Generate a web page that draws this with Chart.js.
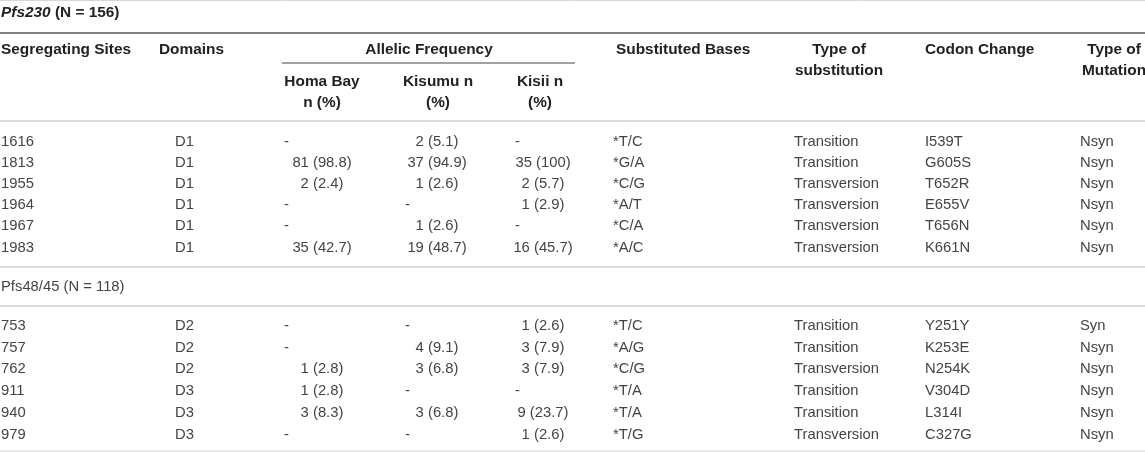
<!DOCTYPE html>
<html>
<head>
<meta charset="utf-8">
<script src="https://cdn.jsdelivr.net/npm/chart.js@4.4.1/dist/chart.umd.min.js"></script>
<style>
html, body { margin: 0; padding: 0; background: #fff; }
#wrap { width: 1145px; height: 452px; }
</style>
</head>
<body>
<div id="wrap"><canvas id="tableChart" width="1145" height="452"></canvas></div>
<script>
// Table content
var headerLabels = ['Segregating Sites', 'Domains', 'Allelic Frequency', 'Substituted Bases', 'Type of\nsubstitution', 'Codon Change', 'Type of\nMutation'];
var allelicLabels = ['Homa Bay\nn (%)', 'Kisumu n\n(%)', 'Kisii n\n(%)'];

var pfs230Title = ['Pfs230', ' (N = 156)'];
var pfs230Sites = ['1616', '1813', '1955', '1964', '1967', '1983'];
var pfs230Domains = ['D1', 'D1', 'D1', 'D1', 'D1', 'D1'];
var pfs230HomaBay = ['-', '81 (98.8)', '2 (2.4)', '-', '-', '35 (42.7)'];
var pfs230Kisumu = ['2 (5.1)', '37 (94.9)', '1 (2.6)', '-', '1 (2.6)', '19 (48.7)'];
var pfs230Kisii = ['-', '35 (100)', '2 (5.7)', '1 (2.9)', '-', '16 (45.7)'];
var pfs230Bases = ['*T/C', '*G/A', '*C/G', '*A/T', '*C/A', '*A/C'];
var pfs230SubType = ['Transition', 'Transition', 'Transversion', 'Transversion', 'Transversion', 'Transversion'];
var pfs230Codon = ['I539T', 'G605S', 'T652R', 'E655V', 'T656N', 'K661N'];
var pfs230Mutation = ['Nsyn', 'Nsyn', 'Nsyn', 'Nsyn', 'Nsyn', 'Nsyn'];

var pfs4845Title = 'Pfs48/45 (N = 118)';
var pfs4845Sites = ['753', '757', '762', '911', '940', '979'];
var pfs4845Domains = ['D2', 'D2', 'D2', 'D3', 'D3', 'D3'];
var pfs4845HomaBay = ['-', '-', '1 (2.8)', '1 (2.8)', '3 (8.3)', '-'];
var pfs4845Kisumu = ['-', '4 (9.1)', '3 (6.8)', '-', '3 (6.8)', '-'];
var pfs4845Kisii = ['1 (2.6)', '3 (7.9)', '3 (7.9)', '-', '9 (23.7)', '1 (2.6)'];
var pfs4845Bases = ['*T/C', '*A/G', '*C/G', '*T/A', '*T/A', '*T/G'];
var pfs4845SubType = ['Transition', 'Transition', 'Transversion', 'Transition', 'Transition', 'Transversion'];
var pfs4845Codon = ['Y251Y', 'K253E', 'N254K', 'V304D', 'L314I', 'C327G'];
var pfs4845Mutation = ['Syn', 'Nsyn', 'Nsyn', 'Nsyn', 'Nsyn', 'Nsyn'];

// Layout (scale units = page pixels)
var headFont = 'bold 15.4px "Liberation Sans", Arial, sans-serif';
var titleItalic = 'italic bold 15.4px "Liberation Sans", Arial, sans-serif';
var bodyFont = '14.8px "Liberation Sans", Arial, sans-serif';
var headColor = '#222';
var bodyColor = '#444';

// data columns: x anchor, alignment, x for a dash
var bodyCols = [
	{ x: 1, align: 'left' },
	{ x: 175, align: 'left' },
	{ x: 322, align: 'center', dash: 284 },
	{ x: 437, align: 'center', dash: 405 },
	{ x: 543, align: 'center', dash: 515 },
	{ x: 613, align: 'left' },
	{ x: 794, align: 'left' },
	{ x: 925, align: 'left' },
	{ x: 1080, align: 'left' }
];
var headCols = [
	{ x: 1, align: 'left', y: 50 },
	{ x: 159, align: 'left', y: 50 },
	{ x: 429, align: 'center', y: 50 },
	{ x: 616, align: 'left', y: 50 },
	{ x: 839, align: 'center', y: 50 },
	{ x: 925, align: 'left', y: 50 },
	{ x: 1114, align: 'center', y: 50 }
];
var allelicCols = [322, 438, 540];
var headLineGap = 21;
var allelicY = 82;
var section1 = { titleY: 13, firstRow: 141.5, step: 21.2 };
var section2 = { titleY: 287, firstRow: 326, step: 21.7 };

var rules = [
	{ y: 0.5, x0: 0, x1: 1145, color: '#d8d8d8', width: 1 },
	{ y: 33, x0: 0, x1: 1145, color: '#555', width: 1.6 },
	{ y: 63, x0: 282, x1: 575, color: '#444', width: 1 },
	{ y: 121, x0: 0, x1: 1145, color: '#cfcfcf', width: 1.6 },
	{ y: 267, x0: 0, x1: 1145, color: '#cfcfcf', width: 1.6 },
	{ y: 306, x0: 0, x1: 1145, color: '#cfcfcf', width: 1.6 },
	{ y: 451, x0: 0, x1: 1145, color: '#e0e0e0', width: 1.6 }
];

// Build one point per text cell
var cells = [];
function addText(x, y, text, align, font, color) {
	String(text).split('\n').forEach(function (line, i) {
		cells.push({ x: x, y: y + i * headLineGap, text: line, align: align, font: font, color: color });
	});
}

cells.push({ x: 1, y: section1.titleY, parts: [
	{ text: pfs230Title[0], font: titleItalic },
	{ text: pfs230Title[1], font: headFont }
], align: 'left', color: headColor });

headerLabels.forEach(function (label, i) {
	var c = headCols[i];
	addText(c.x, c.y, label, c.align, headFont, headColor);
});
allelicLabels.forEach(function (label, i) {
	addText(allelicCols[i], allelicY, label, 'center', headFont, headColor);
});

function addSection(sec, columns) {
	columns.forEach(function (values, ci) {
		var col = bodyCols[ci];
		values.forEach(function (v, ri) {
			var y = sec.firstRow + ri * sec.step;
			if (v === '-' && col.dash !== undefined) {
				addText(col.dash, y, v, 'left', bodyFont, bodyColor);
			} else {
				addText(col.x, y, v, col.align, bodyFont, bodyColor);
			}
		});
	});
}
addSection(section1, [pfs230Sites, pfs230Domains, pfs230HomaBay, pfs230Kisumu, pfs230Kisii, pfs230Bases, pfs230SubType, pfs230Codon, pfs230Mutation]);
addText(1, section2.titleY, pfs4845Title, 'left', bodyFont, bodyColor);
addSection(section2, [pfs4845Sites, pfs4845Domains, pfs4845HomaBay, pfs4845Kisumu, pfs4845Kisii, pfs4845Bases, pfs4845SubType, pfs4845Codon, pfs4845Mutation]);

// Horizontal rules, placed through the scales
var rulePlugin = {
	id: 'rules',
	beforeDatasetsDraw: function (chart) {
		var ctx = chart.ctx, xs = chart.scales.x, ys = chart.scales.y;
		ctx.save();
		rules.forEach(function (r) {
			ctx.beginPath();
			ctx.strokeStyle = r.color;
			ctx.lineWidth = r.width;
			ctx.moveTo(xs.getPixelForValue(r.x0), ys.getPixelForValue(r.y));
			ctx.lineTo(xs.getPixelForValue(r.x1), ys.getPixelForValue(r.y));
			ctx.stroke();
		});
		ctx.restore();
	}
};

// Draw each cell's text at its point element
var textPlugin = {
	id: 'cellText',
	afterDatasetsDraw: function (chart) {
		var ctx = chart.ctx;
		var meta = chart.getDatasetMeta(0);
		ctx.save();
		ctx.textBaseline = 'middle';
		meta.data.forEach(function (el, i) {
			var c = cells[i];
			ctx.fillStyle = c.color;
			if (c.parts) {
				var x = el.x;
				ctx.textAlign = 'left';
				c.parts.forEach(function (p) {
					ctx.font = p.font;
					ctx.fillText(p.text, x, el.y);
					x += ctx.measureText(p.text).width;
				});
			} else {
				ctx.font = c.font;
				ctx.textAlign = c.align;
				ctx.fillText(c.text, el.x, el.y);
			}
		});
		ctx.restore();
	}
};

var tableCtx = document.getElementById('tableChart').getContext('2d');
var tableChart = new Chart(tableCtx, {
	type: 'scatter',
	data: {
		datasets: [{
			data: cells,
			pointRadius: 0,
			pointHoverRadius: 0
		}]
	},
	options: {
		responsive: false,
		animation: false,
		events: [],
		layout: { padding: 0 },
		plugins: {
			legend: { display: false },
			tooltip: { enabled: false }
		},
		scales: {
			x: { type: 'linear', min: 0, max: 1145, display: false },
			y: { type: 'linear', min: 0, max: 452, reverse: true, display: false }
		}
	},
	plugins: [rulePlugin, textPlugin]
});
</script>
</body>
</html>
